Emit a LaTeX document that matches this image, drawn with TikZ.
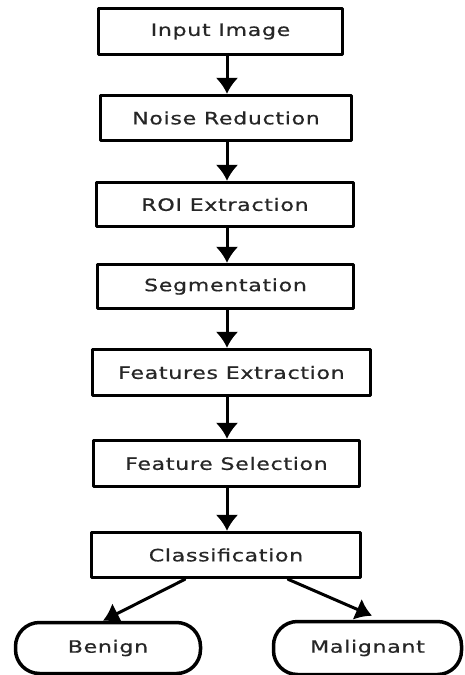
\documentclass[tikz,border=0pt]{standalone}
\usepackage{fontspec}
\setmainfont[FakeStretch=1.3,LetterSpace=4,FakeBold=0.6]{DejaVu Sans}
\usepackage{tikz}
\usetikzlibrary{arrows.meta}
\usetikzlibrary{positioning}

\tikzset{
  stepbox/.style={draw=black, line width=3.5pt, fill=white, text=black!85,
    font=\fontsize{17}{20}\selectfont, inner sep=0pt},
  endbox/.style={stepbox, rounded corners=24pt},
  arr/.style={-{Latex[length=16pt, width=23pt]}, line width=3pt, color=black}
}

\begin{document}
\begin{tikzpicture}[line cap=round,line join=round, x=1pt,y=-1pt]
  \useasboundingbox (0,0) rectangle (464,675);
  \coordinate (axis) at (227,0);
  % the steps
  \node[stepbox, minimum width=244pt, minimum height=46pt] (inp) at (220.5,31.5) {Input Image};
  \node[stepbox, minimum width=251pt, minimum height=45pt] (noise) at (226,118) {Noise Reduction};
  \node[stepbox, minimum width=257pt, minimum height=44pt] (roi) at (225,204.5) {ROI Extraction};
  \node[stepbox, minimum width=256pt, minimum height=44pt] (seg) at (225.5,286.5) {Segmentation};
  \node[stepbox, minimum width=278pt, minimum height=46pt] (fext) at (231.5,372.5) {Features Extraction};
  \node[stepbox, minimum width=266pt, minimum height=46pt] (fsel) at (226.5,463.5) {Feature Selection};
  \node[stepbox, minimum width=269pt, minimum height=45pt] (cls) at (226,555) {Classification};
  % the two results
  \node[endbox, minimum width=185pt, minimum height=51pt] (benign) at (108,648) {Benign};
  \node[endbox, minimum width=188pt, minimum height=53pt] (malig) at (367.5,648) {Malignant};
  \foreach \a/\b in {inp/noise, noise/roi, roi/seg, seg/fext, fext/fsel, fsel/cls}
    \draw[arr] (\a.south -| axis) -- (\b.north -| axis);
  \draw[arr] ([xshift=-41pt]cls.south) -- ([xshift=-5pt]benign.north);
  \draw[arr] ([xshift=62pt]cls.south) -- ([xshift=4.5pt,yshift=4pt]malig.north);
\end{tikzpicture}
\end{document}
